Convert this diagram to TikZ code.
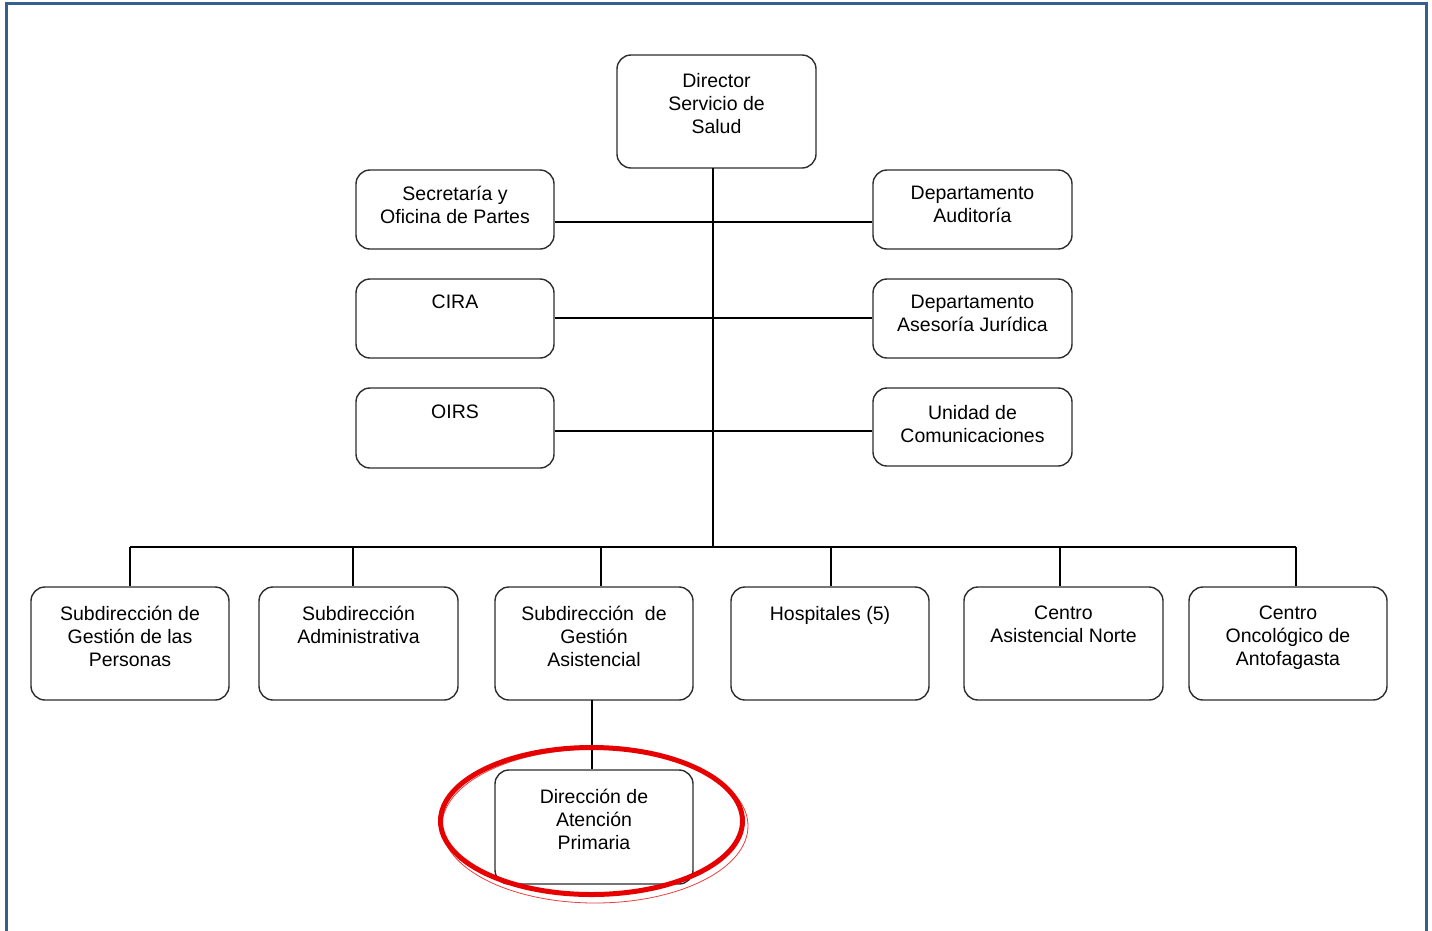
\documentclass[tikz,border=0pt]{standalone}
\usepackage{fontspec}
\setmainfont{Liberation Sans}
\definecolor{frameblue}{RGB}{52,95,145}
\definecolor{boxgray}{RGB}{45,45,45}
\definecolor{ovalred}{RGB}{230,0,0}
\begin{document}
\begin{tikzpicture}[x=1pt,y=-1pt,
  box/.style={draw=boxgray,line width=1.4pt,rounded corners=14pt,fill=white,inner sep=0pt},
  txt/.style={anchor=north,inner sep=0pt,align=center,text=black,font=\fontsize{19.5}{23}\selectfont},
  conn/.style={draw=black,line width=1.2pt}]
\useasboundingbox (0,0) rectangle (1432,930);
\fill[white] (0,0) rectangle (1432,930);
\draw[frameblue,line width=3pt] (6.5,931) -- (6.5,3.5) -- (1426.5,3.5) -- (1426.5,931);

% connectors (drawn first, boxes on top)
\coordinate (tTop) at (713,168);
\coordinate (tBus) at (713,547);
\coordinate (r1) at (713,222);
\coordinate (r2) at (713,318);
\coordinate (r3) at (713,431);
\coordinate (d1) at (130,547);
\coordinate (d2) at (353,547);
\coordinate (d3) at (601,547);
\coordinate (d4) at (831,547);
\coordinate (d5) at (1060,547);
\coordinate (d6) at (1296,547);
\coordinate (dp) at (592,700);

% boxes
\node[box,minimum width=199pt,minimum height=113pt] (dir) at (716.5,111.5) {};
\node[box,minimum width=198pt,minimum height=79pt] (sec) at (455,209.5) {};
\node[box,minimum width=199pt,minimum height=79pt] (aud) at (972.5,209.5) {};
\node[box,minimum width=198pt,minimum height=79pt] (cira) at (455,318.5) {};
\node[box,minimum width=199pt,minimum height=79pt] (jur) at (972.5,318.5) {};
\node[box,minimum width=198pt,minimum height=80pt] (oirs) at (455,428) {};
\node[box,minimum width=199pt,minimum height=78pt] (com) at (972.5,427) {};
\node[box,minimum width=198pt,minimum height=113pt] (b1) at (130,643.5) {};
\node[box,minimum width=199pt,minimum height=113pt] (b2) at (358.5,643.5) {};
\node[box,minimum width=198pt,minimum height=113pt] (b3) at (594,643.5) {};
\node[box,minimum width=198pt,minimum height=113pt] (b4) at (830,643.5) {};
\node[box,minimum width=199pt,minimum height=113pt] (b5) at (1063.5,643.5) {};
\node[box,minimum width=198pt,minimum height=113pt] (b6) at (1288,643.5) {};
\node[box,minimum width=198pt,minimum height=114pt] (dap) at (594,827) {};

\draw[conn] (tTop) -- (tBus);
\draw[conn] (r1 -| sec.east) -- (r1 -| aud.west);
\draw[conn] (r2 -| cira.east) -- (r2 -| jur.west);
\draw[conn] (r3 -| oirs.east) -- (r3 -| com.west);
\draw[conn] (d1) -- (d6);
\draw[conn] (d1) -- (d1 |- b1.north);
\draw[conn] (d2) -- (d2 |- b2.north);
\draw[conn] (d3) -- (d3 |- b3.north);
\draw[conn] (d4) -- (d4 |- b4.north);
\draw[conn] (d5) -- (d5 |- b5.north);
\draw[conn] (d6) -- (d6 |- b6.north);
\draw[conn] (dp) -- (dp |- dap.north);

% texts
\node[txt] (dirT) at (716.5,73) {Director\\Servicio de\\Salud};
\node[txt] (secT) at (455,186) {Secretaría y\\Oficina de Partes};
\node[txt] (audT) at (972.5,186) {Departamento\\Auditoría};
\node[txt] (ciraT) at (455,295) {CIRA};
\node[txt] (jurT) at (972.5,295) {Departamento\\Asesoría Jurídica};
\node[txt] (oirsT) at (455,405) {OIRS};
\node[txt] (comT) at (972.5,405) {Unidad de\\Comunicaciones};
\node[txt] (b1T) at (130,606) {Subdirección de\\Gestión de las\\Personas};
\node[txt] (b2T) at (358.5,606) {Subdirección\\Administrativa};
\node[txt] (b3T) at (594,606) {Subdirección\ \ de\\Gestión\\Asistencial};
\node[txt] (b4T) at (830,606) {Hospitales (5)};
\node[txt] (b5T) at (1063.5,606) {Centro\\Asistencial Norte};
\node[txt] (b6T) at (1288,606) {Centro\\Oncológico de\\Antofagasta};
\node[txt] (dapT) at (594,789) {Dirección de\\Atención\\Primaria};

% red highlight
\draw[ovalred!75,line width=0.8pt] (595,826) ellipse [x radius=153pt,y radius=77pt];
\draw[ovalred,line width=5pt] (591.5,821) ellipse [x radius=151pt,y radius=73.5pt];
\end{tikzpicture}
\end{document}
